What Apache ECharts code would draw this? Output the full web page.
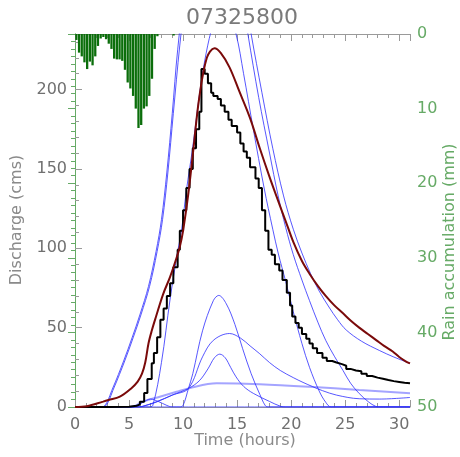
<!DOCTYPE html>
<html><head><meta charset="utf-8">
<script src="https://cdn.jsdelivr.net/npm/echarts@6/dist/echarts.min.js"></script>
<style>html,body{margin:0;padding:0;background:#fff}#c{width:460px;height:457px}</style>
</head><body><div id="c"></div>
<script>
// Rainfall (mm per 15-min step), hanging from top on inverted right axis
const rainHours = [0.125,0.375,0.625,0.875,1.125,1.375,1.625,1.875,2.125,2.375,2.625,2.875,3.125,3.375,3.625,3.875,4.125,4.375,4.625,4.875,5.125,5.375,5.625,5.875,6.125,6.375,6.625,6.875,7.125,7.375,7.625,9.125];
const rainMm    = [0.8,2.5,3.0,3.8,4.7,3.7,4.2,3.0,1.6,0.6,0.4,0.7,1.3,2.0,3.3,3.4,3.4,3.6,4.8,6.5,7.3,8.3,10.0,12.6,12.2,10.0,9.7,8.3,6.0,2.0,0.3,0.2];

// Observed discharge (step line): [start hour, cms]
const observed = [[0,0],[3,0.2],[5,0.8],[5.7,1.5],[6.0,3.3],[6.4,8.8],[6.7,17.6],[7.1,27.6],[7.3,34],[7.6,44],[7.9,55],[8.2,62],[8.5,70],[8.8,78],[9.1,88],[9.5,99],[9.7,111],[10.0,124],[10.3,138],[10.6,150],[10.9,163],[11.2,175],[11.5,186],[11.7,213],[12.0,210],[12.3,204],[12.6,198],[12.8,196],[13.2,194],[13.5,190],[13.85,186],[14.2,181],[14.5,177],[15.0,173],[15.3,166],[15.6,161],[15.9,157],[16.2,151],[16.7,144],[17.0,138],[17.3,124],[17.6,111],[17.9,99],[18.2,96],[18.5,90],[18.9,86],[19.2,80],[19.6,72],[19.9,64],[20.1,57],[20.4,53],[20.7,50],[21.0,46],[21.4,43],[21.7,40],[22.0,37],[22.4,34],[22.9,31],[23.3,29],[23.8,28],[24.2,27],[24.7,26],[25.1,24],[25.5,23],[26.0,22.5],[26.5,21],[27.0,19.5],[27.5,18.5],[28.0,17.8],[28.5,17],[29.0,16.3],[29.5,15.8],[30.0,15.3],[30.5,15],[31,14.8]];

// Simulated discharge (brown)
const simulated = [[0,0],[1.1,0.5],[2.6,3.4],[3.1,4.4],[4.15,6.5],[5.2,11.7],[5.8,16],[6.2,21],[6.5,28],[6.8,40],[7.1,48],[7.5,57],[8.15,71],[8.8,82],[9.4,94],[9.7,101],[10.0,111],[10.5,135],[10.9,159],[11.5,195],[12.2,220],[12.9,226],[13.5,223],[14.3,214],[15.2,199],[16.2,182],[17.1,163],[18.0,145],[18.9,128],[19.5,117],[20.2,104],[21.0,92],[21.7,84],[22.5,76],[23.2,70],[24.0,64],[24.8,59],[25.5,54.5],[26.3,50],[27.1,46],[27.9,42],[28.6,38.5],[29.4,35],[30.0,31.5],[30.6,28.8],[31,27.5]];

// Component curves (blue)
const compA = [[0,0],[2.3,0],[2.7,0.5],[3.5,12],[4.5,29],[5.3,44],[6.0,58],[6.8,76],[7.5,98],[8.0,118],[8.5,148],[9.0,185],[9.5,225],[10.5,285],[11.5,320],[12.5,335],[13.5,330],[14.5,300],[15.3,265],[16.0,235],[17.0,195],[18.0,160],[18.8,133],[19.5,113],[20.2,96],[21.0,80],[21.7,67],[22.5,53],[23.2,42],[24.0,32],[24.8,23],[25.5,15],[26.3,8.5],[27.2,3],[27.8,0.5],[28.2,0],[31,0]];
const compB = [[0,0],[2.4,0],[2.8,0.5],[3.6,12],[4.6,29],[5.4,44],[6.1,58],[6.9,76],[7.6,98],[8.1,118],[8.6,148],[9.1,185],[9.7,228],[10.5,275],[11.5,315],[12.5,335],[13.5,335],[14.5,310],[15.5,268],[16.3,235],[17.3,198],[18.3,163],[19.3,133],[20.2,112],[21.0,97],[21.8,84],[22.6,73],[23.5,63],[24.3,55],[25.1,48.5],[26.5,41.5],[28.2,35.5],[29.5,31.5],[31,27.5]];
const compC = [[0,0],[6.8,0],[7.2,1],[8.0,28],[8.8,68],[9.5,98],[9.85,111],[10.3,136],[10.9,164],[11.5,196],[12.0,218],[12.6,237],[13.3,252],[14.0,252],[14.9,235],[15.6,210],[16.5,175],[17.5,138],[18.3,112],[18.8,97],[19.5,79],[20.2,60],[21.0,40],[21.7,25],[22.6,10],[23.2,3],[23.7,0],[31,0]];
const compS1 = [[0,0],[9.7,0],[10.0,1],[10.5,11.7],[10.9,21],[11.8,48],[12.8,67],[13.3,70.3],[14.0,65],[14.8,52],[15.5,37],[16.3,21],[17.1,8],[17.6,1],[17.9,0],[31,0]];
const compS2 = [[0,0],[5.8,0],[6.2,0.3],[7.5,3],[9.0,7.5],[10.5,11.7],[11.8,31.6],[12.8,42],[14.3,46.3],[15.3,43.5],[16.2,38.5],[17.1,33.5],[18.0,28],[19.0,23],[20.2,18.5],[21.1,15.5],[22.0,12.8],[22.9,10.3],[24.2,7.5],[26.3,5.2],[28.2,5],[31,6]];
const compS3 = [[0,0],[5.8,0],[6.2,0.3],[7.6,3.5],[9.0,7.5],[10.5,11.7],[11.5,16.5],[12.3,24],[12.9,31],[13.4,33.3],[13.9,31],[14.4,25],[14.9,19],[15.6,13],[16.5,8.6],[18.0,3.5],[19.0,0.5],[19.5,0],[31,0]];
const compS4 = [[0,0],[5.3,0],[5.6,0.3],[6.3,3],[7.0,5],[7.7,3.5],[8.5,1],[9.0,0],[31,0]];
const compF1 = [[0,0],[5.0,0],[5.4,0.3],[6.3,3.4],[7.85,6.5],[9.4,9.6],[10.5,11.7],[13.1,14.9],[17.1,14.4],[21.7,12.8],[26.3,10.7],[31,8.6]];

const xTicks = [0,5,10,15,20,25,30];

const gray = '#707070', axisGray = '#9a9a9a', green = '#66aa66';
const font = 'DejaVu Sans';
const blue = 'rgba(45,45,255,0.8)';

function blueSeries(data, w, col) {
  return {type:'line', data, xAxisIndex:0, yAxisIndex:0, showSymbol:false, smooth:0.35,
    lineStyle:{color: col || blue, width: w || 1}, z:3, silent:true};
}

const chart = echarts.init(document.getElementById('c'), null, {renderer:'canvas'});
chart.setOption({
  animation:false,
  backgroundColor:'#fff',
  grid:{left:75, right:50, top:34, bottom:50},
  xAxis:[
    {type:'value', min:0, max:31, interval:5, position:'bottom',
     axisLine:{lineStyle:{color:axisGray}}, axisTick:{inside:true, length:7, lineStyle:{color:axisGray}},
     minorTick:{show:true, splitNumber:5, length:4, lineStyle:{color:axisGray}},
     splitLine:{show:false},
     axisLabel:{color:gray, fontSize:16, fontFamily:font, margin:10,
       formatter: v => xTicks.indexOf(v) >= 0 ? String(v) : ''}},
    {type:'value', min:0, max:31, interval:5, position:'top',
     axisLine:{lineStyle:{color:axisGray}}, axisTick:{inside:true, length:7, lineStyle:{color:axisGray}},
     minorTick:{show:true, splitNumber:5, length:4, lineStyle:{color:axisGray}},
     splitLine:{show:false}, axisLabel:{show:false}}
  ],
  yAxis:[
    {type:'value', min:0, max:235, interval:50, position:'left',
     axisLine:{show:true, lineStyle:{color:axisGray}}, axisTick:{show:true, inside:true, length:7, lineStyle:{color:axisGray}},
     minorTick:{show:true, splitNumber:5, length:4, lineStyle:{color:axisGray}},
     splitLine:{show:false},
     axisLabel:{color:gray, fontSize:16, fontFamily:font, margin:8, showMaxLabel:false}},
    {type:'value', min:0, max:50, interval:10, position:'right', inverse:true,
     axisLine:{show:true, lineStyle:{color:green}}, axisTick:{show:true, inside:true, length:7, lineStyle:{color:green}},
     minorTick:{show:true, splitNumber:10, length:4, lineStyle:{color:green}},
     splitLine:{show:false},
     axisLabel:{color:green, fontSize:16, fontFamily:font, margin:7}}
  ],
  graphic:[
    {type:'text', x:242, y:18, style:{text:'07325800', fill:'#7a7a7a', font:'22px "DejaVu Sans"', align:'center', verticalAlign:'middle'}},
    {type:'text', x:17, y:220, rotation:Math.PI/2, style:{text:'Discharge (cms)', fill:'#8a8a8a', font:'16px "DejaVu Sans"', align:'center', verticalAlign:'middle'}},
    {type:'text', x:245, y:441, style:{text:'Time (hours)', fill:'#8a8a8a', font:'16px "DejaVu Sans"', align:'center', verticalAlign:'middle'}},
    {type:'text', x:450, y:242, rotation:Math.PI/2, style:{text:'Rain accumulation (mm)', fill:green, font:'16px "DejaVu Sans"', align:'center', verticalAlign:'middle'}}
  ],
  series:[
    {type:'bar', data: rainHours.map((t,i)=>[t, rainMm[i]]), xAxisIndex:0, yAxisIndex:1, barWidth:2.3,
     itemStyle:{color:'#0b6e0b'}, z:2, silent:true},
    blueSeries(compF1, 2, 'rgba(90,90,255,0.55)'),
    blueSeries(compS4),
    blueSeries(compS3),
    blueSeries(compS2),
    blueSeries(compS1),
    blueSeries(compC),
    blueSeries(compB),
    blueSeries(compA),
    {type:'line', data: observed, step:'end', showSymbol:false, lineStyle:{color:'#000', width:2}, z:5, silent:true},
    {type:'line', data: simulated, smooth:0.35, showSymbol:false, lineStyle:{color:'#7a0a0a', width:2}, z:6, silent:true}
  ]
});
</script></body></html>
